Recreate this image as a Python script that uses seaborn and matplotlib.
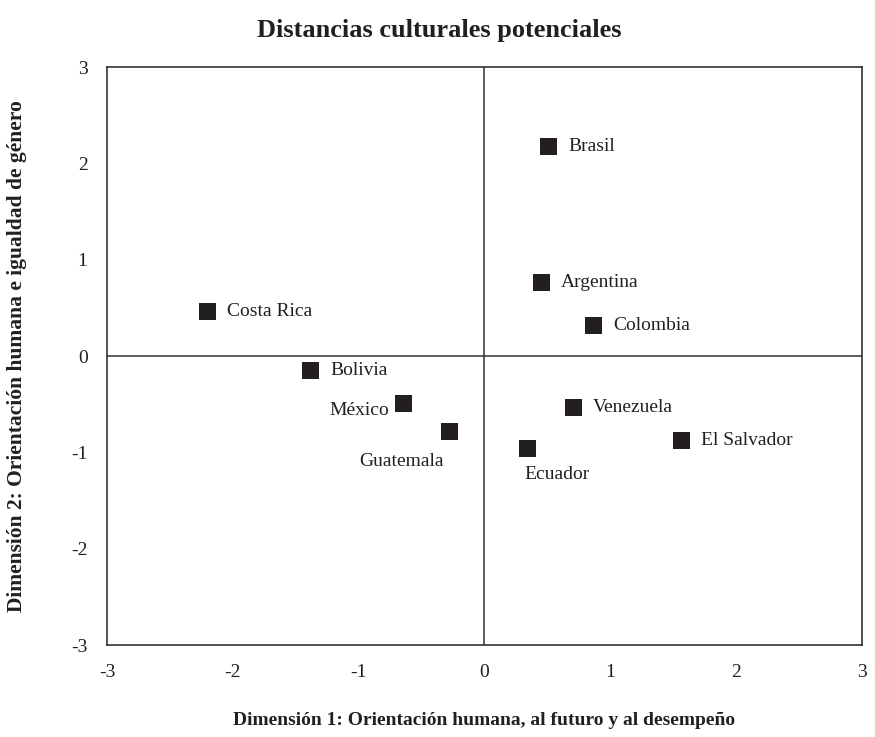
import matplotlib
matplotlib.use('Agg')
import matplotlib.pyplot as plt
import seaborn as sns
import pandas as pd

paises = ['Brasil', 'Argentina', 'Colombia', 'Costa Rica', 'Bolivia', 'México',
          'Guatemala', 'Venezuela', 'Ecuador', 'El Salvador']
dim1 = [0.51, 0.45, 0.87, -2.20, -1.38, -0.64, -0.28, 0.71, 0.34, 1.57]
dim2 = [2.18, 0.76, 0.32, 0.46, -0.15, -0.49, -0.78, -0.53, -0.96, -0.88]
ticks = [-3, -2, -1, 0, 1, 2, 3]

df = pd.DataFrame({'pais': paises, 'd1': dim1, 'd2': dim2})

sns.set_style('white')
plt.rcParams['font.family'] = ['Liberation Serif', 'DejaVu Serif']
plt.rcParams['axes.unicode_minus'] = False

fig = plt.figure(figsize=(8.75, 7.37), dpi=100)
ax = fig.add_axes([0.1223, 0.1248, 0.8627, 0.7842])

ax.axhline(0, color='#333333', lw=1.1, zorder=1)
ax.axvline(0, color='#333333', lw=1.1, zorder=1)

sns.scatterplot(data=df, x='d1', y='d2', marker='s', s=150, color='#231f20',
                edgecolor='none', ax=ax, zorder=3)

# label offsets in points (dx, dy, ha, va)
offsets = {
    'Brasil': (14, 0, 'left', 'center'),
    'Argentina': (14, 0, 'left', 'center'),
    'Colombia': (14, 0, 'left', 'center'),
    'Costa Rica': (14, 0, 'left', 'center'),
    'Bolivia': (14, 0, 'left', 'center'),
    'México': (-11, -5, 'right', 'center'),
    'Guatemala': (-4, -22, 'right', 'center'),
    'Venezuela': (14, 0, 'left', 'center'),
    'Ecuador': (-2, -19, 'left', 'center'),
    'El Salvador': (14, 0, 'left', 'center'),
}
for p, x, y in zip(df['pais'], df['d1'], df['d2']):
    dx, dy, ha, va = offsets[p]
    ax.annotate(p, (x, y), xytext=(dx, dy), textcoords='offset points',
                ha=ha, va=va, fontsize=14, color='#231f20')

ax.set_xlim(-3, 3)
ax.set_ylim(-3, 3)
ax.set_xticks(ticks)
ax.set_yticks(ticks)
ax.tick_params(length=0, labelsize=14, pad=14, colors='#231f20')
for s in ax.spines.values():
    s.set_color('#333333')
    s.set_linewidth(1.2)

ax.set_xlabel('Dimensión 1: Orientación humana, al futuro y al desempeño',
              fontsize=14, fontweight='bold', labelpad=22, color='#231f20')
ax.set_ylabel('Dimensión 2: Orientación humana e igualdad de género',
              fontsize=15.5, fontweight='bold', color='#231f20')
ax.yaxis.set_label_coords(-0.106, 0.5)
fig.text(0.502, 1 - 31 / 737, 'Distancias culturales potenciales', fontsize=19,
         fontweight='bold', ha='center', va='center', color='#231f20')

fig.savefig('out.png', dpi=100)
